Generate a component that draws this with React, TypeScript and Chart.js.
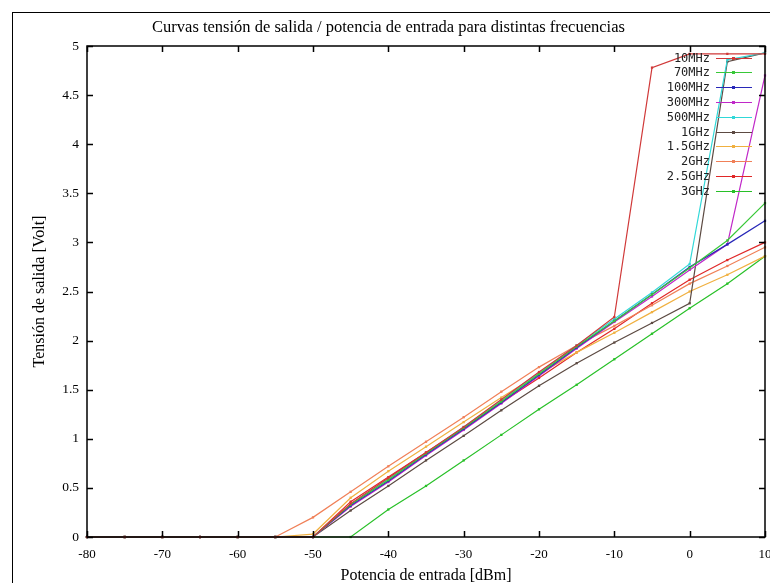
import React, { useEffect, useRef } from "react";
import { Chart, registerables } from "chart.js";

Chart.register(...registerables);

// x: input power [dBm]
const xValues = [-80, -75, -70, -65, -60, -55, -50, -45, -40, -35, -30, -25, -20, -15, -10, -5, 0, 5, 10];

// y: output voltage [V] per frequency
const v10MHz = [0, 0, 0, 0, 0, 0, 0, 0.34, 0.6, 0.86, 1.12, 1.4, 1.68, 1.95, 2.24, 4.78, 4.92, 4.92, 4.92];
const v70MHz = [0, 0, 0, 0, 0, 0, 0, 0.33, 0.58, 0.85, 1.11, 1.38, 1.66, 1.94, 2.2, 2.47, 2.74, 3.02, 3.4];
const v100MHz = [0, 0, 0, 0, 0, 0, 0, 0.32, 0.57, 0.84, 1.1, 1.37, 1.65, 1.93, 2.2, 2.47, 2.75, 2.98, 3.22];
const v300MHz = [0, 0, 0, 0, 0, 0, 0, 0.31, 0.56, 0.83, 1.09, 1.36, 1.64, 1.92, 2.19, 2.45, 2.72, 2.98, 4.7];
const v500MHz = [0, 0, 0, 0, 0, 0, 0, 0.33, 0.59, 0.85, 1.12, 1.39, 1.67, 1.95, 2.22, 2.49, 2.78, 4.86, 4.93];
const v1GHz = [0, 0, 0, 0, 0, 0, 0, 0.27, 0.52, 0.78, 1.03, 1.29, 1.54, 1.77, 1.98, 2.18, 2.38, 4.84, 4.93];
const v1_5GHz = [0, 0, 0, 0, 0, 0, 0.03, 0.4, 0.67, 0.92, 1.17, 1.42, 1.66, 1.88, 2.08, 2.29, 2.5, 2.67, 2.86];
const v2GHz = [0, 0, 0, 0, 0, 0, 0.2, 0.46, 0.72, 0.97, 1.22, 1.48, 1.73, 1.95, 2.15, 2.36, 2.58, 2.76, 2.95];
const v2_5GHz = [0, 0, 0, 0, 0, 0, 0, 0.36, 0.61, 0.86, 1.11, 1.37, 1.62, 1.88, 2.12, 2.38, 2.62, 2.82, 3.0];
const v3GHz = [0, 0, 0, 0, 0, 0, 0, 0, 0.28, 0.52, 0.78, 1.04, 1.3, 1.55, 1.81, 2.07, 2.33, 2.58, 2.86];

const seriesLabels = ["10MHz", "70MHz", "100MHz", "300MHz", "500MHz", "1GHz", "1.5GHz", "2GHz", "2.5GHz", "3GHz"];
const seriesValues = [v10MHz, v70MHz, v100MHz, v300MHz, v500MHz, v1GHz, v1_5GHz, v2GHz, v2_5GHz, v3GHz];
const seriesColors = ["#d03838", "#38c838", "#2828b8", "#c028c8", "#30d8d8", "#5c4a42", "#f0b040", "#f08058", "#e02828", "#28c028"];

const titleText = "Curvas tensión de salida / potencia de entrada para distintas frecuencias";
const xTitle = "Potencia de entrada [dBm]";
const yTitle = "Tensión de salida [Volt]";

const SERIF = "'Liberation Serif', 'DejaVu Serif', serif";

const framePlugin = {
  id: "gnuFrame",
  afterDatasetsDraw(chart: any) {
    const { ctx, chartArea } = chart;
    const { left, right, top, bottom } = chartArea;
    ctx.save();
    ctx.strokeStyle = "#000";
    // outer image frame
    ctx.lineWidth = 1;
    ctx.strokeRect(12.5, 12.5, 900, 700);
    // plot border
    ctx.lineWidth = 1.5;
    ctx.strokeRect(left, top, right - left, bottom - top);
    // inward ticks
    const xs = chart.scales.x;
    const ys = chart.scales.y;
    ctx.lineWidth = 1.5;
    ctx.beginPath();
    xs.ticks.forEach((t: any) => {
      const px = Math.round(xs.getPixelForValue(t.value)) + 0.5;
      ctx.moveTo(px, bottom);
      ctx.lineTo(px, bottom - 6);
      ctx.moveTo(px, top);
      ctx.lineTo(px, top + 6);
    });
    ys.ticks.forEach((t: any) => {
      const py = Math.round(ys.getPixelForValue(t.value)) + 0.5;
      ctx.moveTo(left, py);
      ctx.lineTo(left + 6, py);
      ctx.moveTo(right, py);
      ctx.lineTo(right - 6, py);
    });
    ctx.stroke();
    ctx.restore();
  },
};

const legendPlugin = {
  id: "gnuLegend",
  afterDatasetsDraw(chart: any) {
    const { ctx, chartArea } = chart;
    ctx.save();
    ctx.font = "12px 'DejaVu Sans Mono', monospace";
    ctx.textAlign = "right";
    ctx.textBaseline = "middle";
    chart.data.datasets.forEach((ds: any, i: number) => {
      const y = Math.round(chartArea.top + 11.5 + i * 14.8) + 0.5;
      ctx.fillStyle = "#222";
      ctx.fillText(ds.label, chartArea.right - 55, y);
      ctx.strokeStyle = ds.borderColor;
      ctx.lineWidth = 1.2;
      ctx.beginPath();
      ctx.moveTo(chartArea.right - 49, y);
      ctx.lineTo(chartArea.right - 13, y);
      ctx.stroke();
      ctx.fillStyle = ds.borderColor;
      ctx.fillRect(chartArea.right - 33, y - 1.5, 3, 3);
    });
    ctx.restore();
  },
};

export default function App() {
  const ref = useRef<HTMLCanvasElement>(null);
  useEffect(() => {
    const canvas = ref.current;
    if (!canvas) return;
    const datasets = seriesLabels.map((label, i) => ({
      label,
      data: xValues.map((x, j) => ({ x, y: seriesValues[i][j] })),
      borderColor: seriesColors[i],
      backgroundColor: seriesColors[i],
      borderWidth: 1.2,
      pointRadius: 1.6,
      pointStyle: "rect" as const,
      pointBorderWidth: 0,
      tension: 0,
      fill: false,
      clip: 3,
    }));
    const chart = new Chart(canvas, {
      type: "line",
      data: { datasets },
      options: {
        responsive: false,
        animation: false,
        events: [],
        layout: { padding: { left: 12, right: 5, top: 0, bottom: 0 } },
        plugins: {
          legend: { display: false },
          tooltip: { enabled: false },
          title: {
            display: true,
            text: titleText,
            color: "#000",
            font: { family: SERIF, size: 16.5, weight: "normal" },
            padding: { top: 18, bottom: 8.2 },
          },
        },
        scales: {
          x: {
            type: "linear",
            min: -80,
            max: 10,
            grid: { display: false, drawTicks: false },
            border: { display: false },
            ticks: {
              stepSize: 10,
              color: "#000",
              padding: 10,
              maxRotation: 0,
              font: { family: SERIF, size: 13 },
            },
            title: {
              display: true,
              text: xTitle,
              color: "#000",
              font: { family: SERIF, size: 16 },
              padding: { top: 0, bottom: -2 },
            },
            afterFit: (s: any) => {
              s.height = 46;
              s.paddingLeft = 0;
              s.paddingRight = 0;
            },
          },
          y: {
            type: "linear",
            min: 0,
            max: 5,
            grid: { display: false, drawTicks: false },
            border: { display: false },
            ticks: {
              stepSize: 0.5,
              color: "#000",
              padding: 8,
              font: { family: SERIF, size: 13.5 },
              callback: (v: any) => String(Math.round(Number(v) * 10) / 10),
            },
            title: {
              display: true,
              text: yTitle,
              color: "#000",
              font: { family: SERIF, size: 16 },
              padding: { top: 18, bottom: 0 },
            },
            afterFit: (s: any) => {
              s.width = 75;
              s.paddingTop = 0;
              s.paddingBottom = 0;
            },
          },
        },
      },
      plugins: [framePlugin, legendPlugin],
    });
    return () => chart.destroy();
  }, []);
  return (
    <div style={{ position: "fixed", left: 0, top: 0, width: 770, height: 583, background: "#fff" }}>
      <canvas ref={ref} width={770} height={583} style={{ display: "block" }} />
    </div>
  );
}
